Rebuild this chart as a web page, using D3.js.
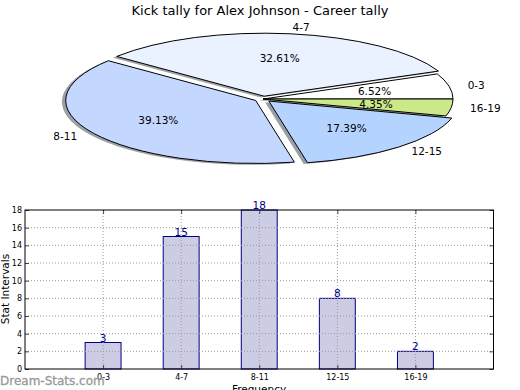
<!DOCTYPE html>
<html>
<head>
<meta charset="utf-8">
<script src="https://cdn.jsdelivr.net/npm/d3@7"></script>
<style>
body { margin: 0; background: #fff; }
text { font-family: "DejaVu Sans", sans-serif; }
</style>
</head>
<body>
<svg id="chart" width="520" height="390"></svg>
<script>
// Data
const categories = ['0-3', '4-7', '8-11', '12-15', '16-19'];
const counts = [3, 15, 18, 8, 2];
const explode = [0, 0.045, 0.045, 0.045, 0];
const sliceColors = ['#ffffff', '#eaf1ff', '#c4d8ff', '#b4d3ff', '#cce98a'];
const yTicks = [0, 2, 4, 6, 8, 10, 12, 14, 16, 18];
const title = 'Kick tally for Alex Johnson - Career tally';

const svg = d3.select('#chart');

// ---------- Pie (squashed, exploded, with shadow) ----------
const pie = { cx: 263, cy: 99, rx: 190, ry: 63 };
const total = d3.sum(counts);
// matplotlib style: start at 3 o'clock, go counterclockwise
const arcs = d3.pie().sort(null)
    .startAngle(Math.PI / 2)
    .endAngle(Math.PI / 2 - 2 * Math.PI)(counts);

function wedgePath(d) {
    const a0 = d.startAngle, a1 = d.endAngle;
    const x0 = pie.rx * Math.sin(a0), y0 = -pie.ry * Math.cos(a0);
    const x1 = pie.rx * Math.sin(a1), y1 = -pie.ry * Math.cos(a1);
    const large = Math.abs(a1 - a0) > Math.PI ? 1 : 0;
    return `M0,0L${x0},${y0}A${pie.rx},${pie.ry} 0 ${large} 0 ${x1},${y1}Z`;
}
function midAngle(d) { return (d.startAngle + d.endAngle) / 2; }
function center(d) {
    const a = midAngle(d), e = explode[d.index];
    return [pie.cx + e * pie.rx * Math.sin(a), pie.cy - e * pie.ry * Math.cos(a)];
}

const pieG = svg.append('g');
// shadows
pieG.selectAll('path.shadow')
    .data(arcs)
    .join('path')
    .attr('class', 'shadow')
    .attr('d', wedgePath)
    .attr('transform', d => { const c = center(d); return `translate(${c[0] - 3.8},${c[1] + 1.3})`; })
    .attr('fill', d => { const c = d3.rgb(sliceColors[d.index]); return d3.rgb(c.r * 0.3, c.g * 0.3, c.b * 0.3); })
    .attr('fill-opacity', 0.5);
// wedges
pieG.selectAll('path.wedge')
    .data(arcs)
    .join('path')
    .attr('class', 'wedge')
    .attr('d', wedgePath)
    .attr('transform', d => `translate(${center(d)})`)
    .attr('fill', d => sliceColors[d.index])
    .attr('stroke', '#000')
    .attr('stroke-width', 1)
    .attr('stroke-linejoin', 'round');

// labels
pieG.selectAll('text.lbl')
    .data(arcs)
    .join('text')
    .attr('class', 'lbl')
    .attr('x', d => center(d)[0] + 1.1 * pie.rx * Math.sin(midAngle(d)))
    .attr('y', d => center(d)[1] - 1.1 * pie.ry * Math.cos(midAngle(d)))
    .attr('dy', '0.35em')
    .attr('text-anchor', d => Math.sin(midAngle(d)) > 0 ? 'start' : 'end')
    .style('font-size', '10.5px')
    .text(d => categories[d.index]);
pieG.selectAll('text.pct')
    .data(arcs)
    .join('text')
    .attr('class', 'pct')
    .attr('x', d => center(d)[0] + 0.6 * pie.rx * Math.sin(midAngle(d)))
    .attr('y', d => center(d)[1] - 0.6 * pie.ry * Math.cos(midAngle(d)))
    .attr('dy', '0.35em')
    .attr('text-anchor', 'middle')
    .style('font-size', '10.5px')
    .text(d => d3.format('.2f')(d.data / total * 100) + '%');

svg.append('text')
    .attr('x', 260).attr('y', 15)
    .attr('text-anchor', 'middle')
    .style('font-size', '13px')
    .text(title);

// ---------- Bar chart ----------
const plot = { left: 25, right: 493.5, top: 210, bottom: 369 };
const xScale = d3.scaleLinear().domain([0, 6]).range([plot.left, plot.right]);
const yScale = d3.scaleLinear().domain([0, 18]).range([plot.bottom, plot.top]);
const xTicks = categories.map((c, i) => i + 1);
const barWidth = 0.46;

const barG = svg.append('g');
barG.selectAll('rect.bar')
    .data(counts)
    .join('rect')
    .attr('class', 'bar')
    .attr('x', (d, i) => xScale(i + 1 - barWidth / 2))
    .attr('width', xScale(barWidth) - xScale(0))
    .attr('y', d => yScale(d))
    .attr('height', d => yScale(0) - yScale(d))
    .attr('fill', '#cccce4')
    .attr('stroke', '#000080')
    .attr('stroke-width', 1);

// grid (drawn over the bars, dotted)
barG.selectAll('line.hgrid')
    .data(yTicks.slice(1, -1))
    .join('line')
    .attr('x1', plot.left).attr('x2', plot.right)
    .attr('y1', d => yScale(d)).attr('y2', d => yScale(d))
    .attr('stroke', '#999').attr('stroke-dasharray', '1,2');
barG.selectAll('line.vgrid')
    .data(xTicks)
    .join('line')
    .attr('x1', d => xScale(d)).attr('x2', d => xScale(d))
    .attr('y1', plot.top).attr('y2', plot.bottom)
    .attr('stroke', '#999').attr('stroke-dasharray', '1,2');

// axes with inside ticks
const yAxis = d3.axisLeft(yScale).tickValues(yTicks).tickSizeInner(-4).tickSizeOuter(0).tickPadding(3);
const yAxisR = d3.axisRight(yScale).tickValues(yTicks).tickSizeInner(-4).tickSizeOuter(0).tickFormat('');
const xAxis = d3.axisBottom(xScale).tickValues(xTicks).tickSizeInner(-4).tickSizeOuter(0).tickPadding(5)
    .tickFormat((d, i) => categories[i]);
const xAxisT = d3.axisTop(xScale).tickValues(xTicks).tickSizeInner(-4).tickSizeOuter(0).tickFormat('');

function styleAxis(g) {
    g.select('.domain').remove();
    g.selectAll('line').attr('stroke', '#444');
    g.selectAll('text').attr('fill', '#000').style('font-size', '8px').style('font-family', '"DejaVu Sans", sans-serif');
}
barG.append('g').attr('transform', `translate(${plot.left},0)`).call(yAxis).call(styleAxis);
barG.append('g').attr('transform', `translate(${plot.right},0)`).call(yAxisR).call(styleAxis);
barG.append('g').attr('transform', `translate(0,${plot.bottom})`).call(xAxis).call(styleAxis);
barG.append('g').attr('transform', `translate(0,${plot.top})`).call(xAxisT).call(styleAxis);

barG.append('rect')
    .attr('x', plot.left).attr('y', plot.top)
    .attr('width', plot.right - plot.left).attr('height', plot.bottom - plot.top)
    .attr('fill', 'none').attr('stroke', '#000').attr('stroke-width', 1);

// value labels
barG.selectAll('text.val')
    .data(counts)
    .join('text')
    .attr('class', 'val')
    .attr('x', (d, i) => xScale(i + 1))
    .attr('y', d => yScale(d) - 1)
    .attr('text-anchor', 'middle')
    .attr('fill', '#00008b')
    .style('font-size', '10.5px')
    .text(d => d);

// axis titles
svg.append('text')
    .attr('transform', 'translate(8.5,289) rotate(-90)')
    .attr('text-anchor', 'middle')
    .style('font-size', '10.5px')
    .text('Stat Intervals');
svg.append('text')
    .attr('x', 259).attr('y', 393)
    .attr('text-anchor', 'middle')
    .style('font-size', '10.5px')
    .text('Frequency');

// watermark
svg.append('text')
    .attr('x', 0).attr('y', 385)
    .attr('fill', '#999')
    .attr('stroke', '#999')
    .attr('stroke-width', 0.3)
    .style('font-size', '12px')
    .text('Dream-Stats.com');
</script>
</body>
</html>
